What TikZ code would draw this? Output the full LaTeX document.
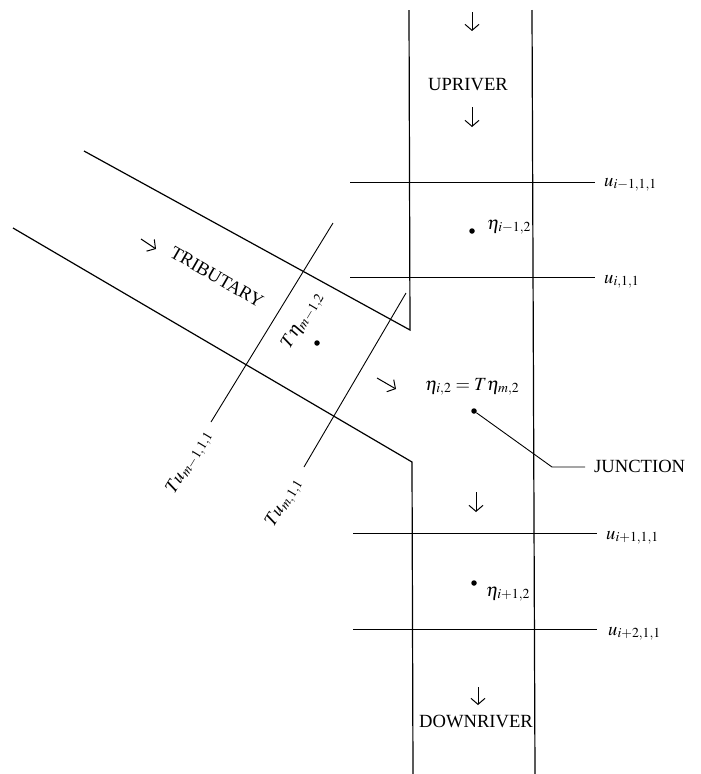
\documentclass[tikz,border=0pt]{standalone}
\usepackage{mathptmx}
\usepackage[no-math]{fontspec}
\setmainfont{Liberation Serif}
\usetikzlibrary{arrows.meta}
\begin{document}
\begin{tikzpicture}[x=1pt,y=-1pt,
  bank/.style={line width=1.2pt},
  gridline/.style={line width=0.9pt},
  flow/.style={line width=1pt,-{Straight Barb[length=6pt,width=14pt]}},
  lbl/.style={inner sep=0pt,font=\fontsize{18.6}{22}\selectfont},
  dotn/.style={circle,fill,inner sep=0pt,minimum size=5.5pt}]
\useasboundingbox (0,0) rectangle (701,774);

% banks
\coordinate (ltop) at (409,10);
\coordinate (ucorner) at (410,330);
\coordinate (tribup) at (84,151);
\coordinate (triblo) at (13,228);
\coordinate (lcorner) at (412,462);
\coordinate (lbot) at (413,774);
\coordinate (rtop) at (532,10);
\coordinate (rbot) at (535,774);
\draw[bank] (ltop) -- (ucorner) -- (tribup);
\draw[bank] (triblo) -- (lcorner) -- (lbot);
\draw[bank] (rtop) -- (rbot);

% river grid lines and labels
\node[lbl,anchor=base west] (u1) at (604,186) {$u_{i-1,1,1}$};
\node[lbl,anchor=base west] (u2) at (604,283) {$u_{i,1,1}$};
\node[lbl,anchor=base west] (u3) at (606,539) {$u_{i+1,1,1}$};
\node[lbl,anchor=base west] (u4) at (608,635) {$u_{i+2,1,1}$};
\coordinate (g1) at (350,182);
\coordinate (g2) at (350,277);
\coordinate (g3) at (353,533);
\coordinate (g4) at (353,629);
\draw[gridline] (g1) -- (g1 -| 595,0);
\draw[gridline] (g2) -- (g2 -| 595,0);
\draw[gridline] (g3) -- (g3 -| 597,0);
\draw[gridline] (g4) -- (g4 -| 597,0);

% tributary cross lines
\coordinate (c1a) at (333,223);
\coordinate (c1b) at (211,422);
\coordinate (c2a) at (406,293);
\coordinate (c2b) at (304,467);
\draw[gridline] (c1a) -- (c1b);
\draw[gridline] (c2a) -- (c2b);
\node[lbl,rotate=59,anchor=east] (tu1) at (208,432) {$Tu_{m-1,1,1}$};
\node[lbl,rotate=59,anchor=east] (tu2) at (298,480) {$Tu_{m,1,1}$};
\node[lbl,rotate=59] (teta) at (303,321) {$T\eta_{m-1,2}$};
\node[dotn] (tdot) at (317,343) {};

% tributary text and arrows
\node[lbl,rotate=-30] (trib) at (217,277) {TRIBUTARY};
\coordinate (ta1) at (141,239);
\coordinate (ta2) at (156,249);
\draw[flow] (ta1) -- (ta2);
\coordinate (ja1) at (377,378);
\coordinate (ja2) at (396,389);
\draw[flow] (ja1) -- (ja2);

% river arrows and texts
\coordinate (a1s) at (472,12);
\coordinate (a1e) at (472,31);
\draw[flow] (a1s) -- (a1e);
\node[lbl,anchor=base] (up) at (468,90) {UPRIVER};
\coordinate (a2s) at (472,107);
\coordinate (a2e) at (472,127);
\draw[flow] (a2s) -- (a2e);
\coordinate (a3s) at (476,492);
\coordinate (a3e) at (476,512);
\draw[flow] (a3s) -- (a3e);
\coordinate (a4s) at (478,687);
\coordinate (a4e) at (478,705);
\draw[flow] (a4s) -- (a4e);
\node[lbl,anchor=base] (down) at (476,727) {DOWNRIVER};

% eta points
\node[dotn] (d1) at (472,231) {};
\node[lbl,anchor=base west] (e1) at (487,229) {$\eta_{i-1,2}$};
\node[lbl,anchor=base west] (e2) at (425,390) {$\eta_{i,2}=T\eta_{m,2}$};
\node[dotn] (jdot) at (474,411) {};
\node[dotn] (d3) at (474,583) {};
\node[lbl,anchor=base west] (e3) at (486,596) {$\eta_{i+1,2}$};

% junction leader
\node[lbl,anchor=base west] (junc) at (594,472) {JUNCTION};
\coordinate (jk) at (552,467);
\coordinate (jh) at (585,467);
\draw[gridline] (jdot) -- (jk) -- (jh);
\end{tikzpicture}
\end{document}
